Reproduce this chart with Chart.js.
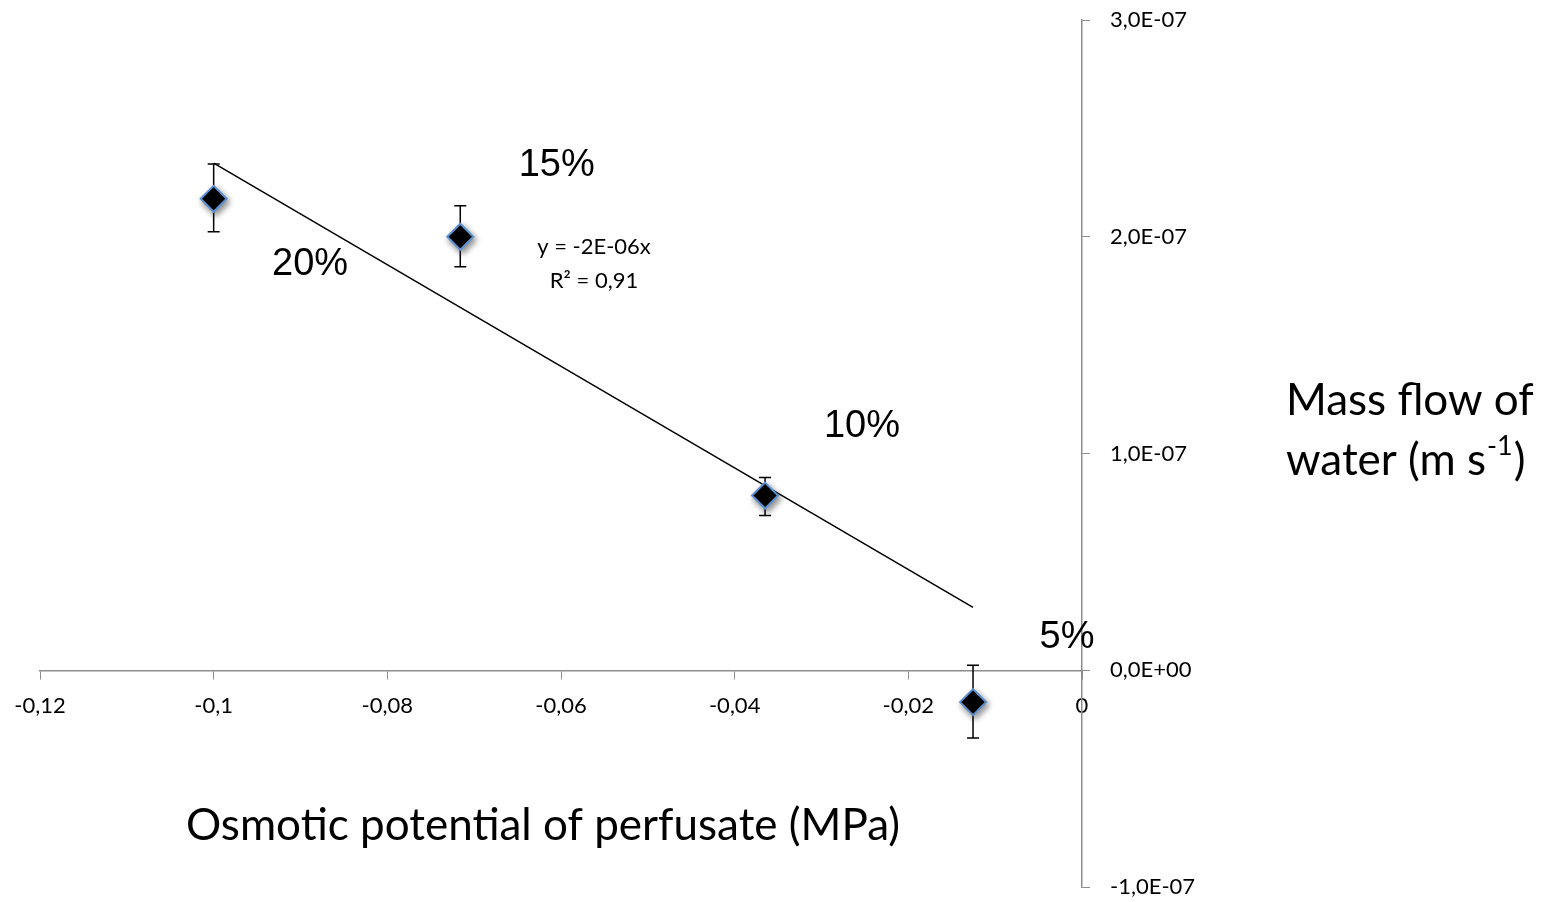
<!DOCTYPE html>
<html>
<head>
<meta charset="utf-8">
<script src="https://cdn.jsdelivr.net/npm/chart.js@4/dist/chart.umd.min.js"></script>
<style>
  html, body { margin: 0; padding: 0; background: #fff; }
  #wrap { width: 1552px; height: 902px; }
</style>
</head>
<body>
<div id="wrap"><canvas id="chart"></canvas></div>
<script>
// values
const osmoticPotential = [-0.1, -0.0716, -0.0365, -0.01255];
const massFlow = [2.175e-7, 2.0e-7, 0.806e-7, -0.147e-7];
const massFlowUpper = [2.336e-7, 2.143e-7, 0.889e-7, 0.023e-7];
const massFlowLower = [2.023e-7, 1.862e-7, 0.714e-7, -0.313e-7];
const trendX = [-0.1, -0.01255];
const trendY = [2.34e-7, 0.29e-7];
const xTicks = [-0.12, -0.1, -0.08, -0.06, -0.04, -0.02, 0];
const yTicks = [-1e-7, 0, 1e-7, 2e-7, 3e-7];
const pctLabels = ['15%', '20%', '10%', '5%'];
const pctX = [-0.0605, -0.0889, -0.02534, -0.00173];
const pctY = [2.33e-7, 1.871e-7, 1.124e-7, 0.152e-7];
const equationLines = ['y = -2E-06x', 'R\u00b2 = 0,91'];
const equationX = -0.0562;
const equationY = [1.954e-7, 1.797e-7];

const axisGrey = '#8c8c8c';
const tickFont = { family: 'Lato', size: 22 };

function formatX(v) {
  return String(Number(v.toFixed(2))).replace('.', ',');
}

function formatY(v) {
  if (Math.abs(v) < 1e-12) v = 0;
  const [mant, exp] = v.toExponential(1).split('e');
  const sign = exp[0] === '-' ? '-' : '+';
  const digits = exp.replace(/[+-]/, '').padStart(2, '0');
  return mant.replace('.', ',') + 'E' + sign + digits;
}

const overlay = {
  id: 'overlay',
  beforeDatasetsDraw(chart) {
    const { ctx, scales: { x, y } } = chart;
    ctx.save();
    ctx.strokeStyle = '#000';
    ctx.lineWidth = 1.5;
    for (let i = 0; i < osmoticPotential.length; i++) {
      const px = x.getPixelForValue(osmoticPotential[i]);
      const top = y.getPixelForValue(massFlowUpper[i]);
      const bottom = y.getPixelForValue(massFlowLower[i]);
      ctx.beginPath();
      ctx.moveTo(px, top);
      ctx.lineTo(px, bottom);
      ctx.moveTo(px - 6, top);
      ctx.lineTo(px + 6, top);
      ctx.moveTo(px - 6, bottom);
      ctx.lineTo(px + 6, bottom);
      ctx.stroke();
    }
    ctx.restore();
  },
  beforeDatasetDraw(chart, args) {
    if (args.index !== 0) return;
    const { ctx } = chart;
    ctx.save();
    ctx.shadowColor = 'rgba(0,0,0,0.45)';
    ctx.shadowBlur = 6;
    ctx.shadowOffsetX = 2;
    ctx.shadowOffsetY = 3;
  },
  afterDatasetDraw(chart, args) {
    if (args.index === 0) chart.ctx.restore();
  },
  afterDraw(chart) {
    const { ctx, scales: { x, y } } = chart;
    ctx.save();
    ctx.fillStyle = '#000';
    ctx.textAlign = 'center';
    ctx.textBaseline = 'middle';

    ctx.font = '38px "Liberation Sans"';
    pctLabels.forEach((t, i) => {
      ctx.fillText(t, x.getPixelForValue(pctX[i]), y.getPixelForValue(pctY[i]));
    });

    ctx.font = '22px Lato';
    equationLines.forEach((t, i) => {
      ctx.fillText(t, x.getPixelForValue(equationX), y.getPixelForValue(equationY[i]));
    });

    // axis titles
    ctx.font = '44px Lato';
    ctx.fillText('Osmotic potential of perfusate (MPa)', 543, 826);

    ctx.textAlign = 'left';
    const tx = 1286;
    ctx.fillText('Mass flow of', tx, 401);
    const part1 = 'water (m s';
    ctx.fillText(part1, tx, 461);
    let cx = tx + ctx.measureText(part1).width;
    ctx.font = '27px Lato';
    ctx.fillText('-1', cx + 1, 446);
    cx += ctx.measureText('-1').width + 2;
    ctx.font = '44px Lato';
    ctx.fillText(')', cx, 461);
    ctx.restore();
  }
};

new Chart(document.getElementById('chart'), {
  type: 'scatter',
  data: {
    datasets: [{
      label: 'Mass flow',
      data: osmoticPotential.map((v, i) => ({ x: v, y: massFlow[i] })),
      pointStyle: 'rectRot',
      pointRadius: 13,
      pointHoverRadius: 13,
      backgroundColor: '#000',
      borderColor: '#5b8fd0',
      borderWidth: 2
    }, {
      label: 'Trend',
      type: 'line',
      data: trendX.map((v, i) => ({ x: v, y: trendY[i] })),
      borderColor: '#000',
      borderWidth: 1.5,
      pointRadius: 0,
      fill: false
    }]
  },
  options: {
    responsive: true,
    maintainAspectRatio: false,
    animation: false,
    layout: { padding: { left: 40, right: 0, top: 20, bottom: 14 } },
    plugins: { legend: { display: false }, tooltip: { enabled: false } },
    scales: {
      x: {
        type: 'linear',
        position: { y: 0 },
        min: -0.12,
        max: 0,
        afterBuildTicks: (scale) => { scale.ticks = xTicks.map(v => ({ value: v })); },
        afterFit: (scale) => { scale.paddingTop = 0; scale.paddingBottom = 0; },
        ticks: { autoSkip: false, maxRotation: 0, padding: 14, color: '#000', font: tickFont, callback: formatX },
        grid: { drawOnChartArea: false, drawTicks: true, tickLength: 8, color: axisGrey },
        border: { color: axisGrey, width: 1.5 }
      },
      y: {
        type: 'linear',
        position: 'right',
        min: -1e-7,
        max: 3e-7,
        afterBuildTicks: (scale) => { scale.ticks = yTicks.map(v => ({ value: v })); },
        afterFit: (scale) => { scale.width = 470; scale.paddingTop = 0; scale.paddingBottom = 0; },
        ticks: { autoSkip: false, padding: 20, color: '#000', font: tickFont, callback: formatY },
        grid: { drawOnChartArea: false, drawTicks: true, tickLength: 8, color: axisGrey },
        border: { color: axisGrey, width: 1.5 }
      }
    }
  },
  plugins: [overlay]
});
</script>
</body>
</html>
